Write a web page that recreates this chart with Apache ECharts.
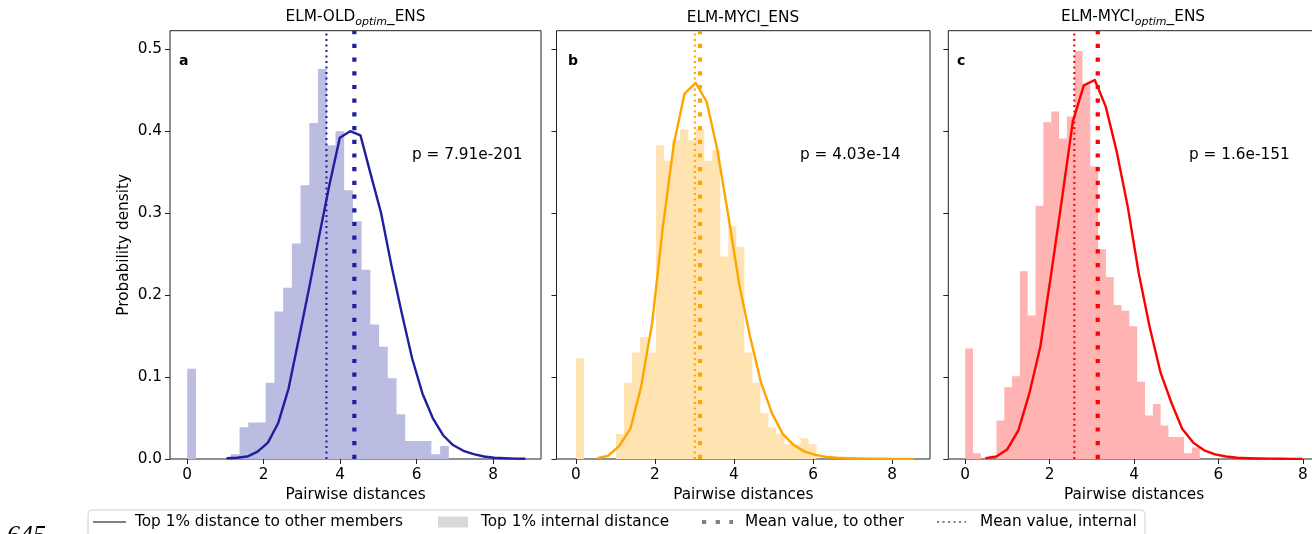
<!DOCTYPE html>
<html>
<head>
<meta charset="utf-8">
<script src="https://cdn.jsdelivr.net/npm/echarts@6/dist/echarts.min.js"></script>
<style>
html,body{margin:0;padding:0;background:#fff;}
#chart{width:1312px;height:534px;}
</style>
</head>
<body>
<div id="chart"></div>
<script>
// ---------------- data ----------------
const xTicks = [0, 2, 4, 6, 8];
const yTicks = [0, 0.1, 0.2, 0.3, 0.4, 0.5];
const yMax = 0.5227;

const titleA = 'ELM-OLD', titleSubA = 'optim';
const titleB = 'ELM-MYCI_ENS';
const titleC = 'ELM-MYCI', titleSubC = 'optim';
const titleEnd = '_ENS';
const panelLetters = ['a', 'b', 'c'];
const pTexts = ['p = 7.91e-201', 'p = 4.03e-14', 'p = 1.6e-151'];
const xName = 'Pairwise distances';
const yName = 'Probability density';
const legendLabels = ['Top 1% distance to other members', 'Top 1% internal distance', 'Mean value, to other', 'Mean value, internal'];
const stray = '645';

// Panel a
const histEdgesA = [0, 0.228, 0.456, 0.684, 0.912, 1.140, 1.368, 1.596, 1.824, 2.052, 2.280, 2.508, 2.736, 2.964, 3.192, 3.420, 3.648, 3.876, 4.104, 4.332, 4.560, 4.788, 5.016, 5.244, 5.472, 5.700, 5.928, 6.156, 6.384, 6.612, 6.840];
const histValsA = [0.110, 0, 0, 0, 0, 0.0057, 0.0387, 0.0444, 0.0444, 0.0932, 0.180, 0.209, 0.263, 0.334, 0.410, 0.476, 0.383, 0.400, 0.328, 0.290, 0.231, 0.164, 0.137, 0.0985, 0.0545, 0.022, 0.022, 0.022, 0.0057, 0.0159];
const curveXA = [1.03, 1.30, 1.57, 1.84, 2.11, 2.38, 2.65, 2.91, 3.18, 3.45, 3.72, 3.99, 4.26, 4.53, 4.80, 5.07, 5.34, 5.61, 5.88, 6.15, 6.42, 6.69, 6.95, 7.22, 7.49, 7.76, 8.03, 8.30, 8.57, 8.84];
const curveYA = [0.001, 0.0015, 0.003, 0.009, 0.020, 0.044, 0.086, 0.145, 0.207, 0.272, 0.335, 0.392, 0.400, 0.395, 0.347, 0.300, 0.236, 0.178, 0.123, 0.080, 0.050, 0.029, 0.017, 0.010, 0.006, 0.003, 0.0015, 0.001, 0.0005, 0.0003];
const meanInternalA = 3.64, meanOtherA = 4.37;

// Panel b
const histEdgesB = [0, 0.203, 0.406, 0.609, 0.812, 1.015, 1.218, 1.421, 1.624, 1.827, 2.030, 2.233, 2.436, 2.639, 2.842, 3.045, 3.248, 3.451, 3.654, 3.857, 4.060, 4.263, 4.466, 4.669, 4.872, 5.075, 5.278, 5.481, 5.684, 5.887, 6.090];
const histValsB = [0.123, 0, 0, 0, 0, 0.0305, 0.0932, 0.130, 0.149, 0.130, 0.383, 0.364, 0.389, 0.402, 0.389, 0.402, 0.364, 0.377, 0.247, 0.284, 0.259, 0.130, 0.0932, 0.0558, 0.0383, 0.0305, 0.0179, 0.0179, 0.0252, 0.0179];
const curveXB = [0.55, 0.82, 1.10, 1.38, 1.65, 1.93, 2.20, 2.48, 2.75, 3.03, 3.31, 3.58, 3.86, 4.13, 4.41, 4.68, 4.96, 5.23, 5.51, 5.79, 6.06, 6.34, 6.61, 6.89, 7.16, 7.44, 7.72, 7.99, 8.27, 8.54];
const curveYB = [0.001, 0.004, 0.016, 0.037, 0.088, 0.166, 0.283, 0.385, 0.446, 0.459, 0.436, 0.377, 0.296, 0.214, 0.149, 0.094, 0.056, 0.031, 0.017, 0.009, 0.005, 0.0025, 0.0015, 0.001, 0.0006, 0.0004, 0.0003, 0.0002, 0.0001, 0.0001];
const meanInternalB = 3.01, meanOtherB = 3.14;

// Panel c
const histEdgesC = [0, 0.185, 0.370, 0.556, 0.741, 0.926, 1.111, 1.296, 1.482, 1.667, 1.852, 2.037, 2.222, 2.408, 2.593, 2.778, 2.963, 3.148, 3.334, 3.519, 3.704, 3.889, 4.074, 4.260, 4.445, 4.630, 4.815, 5.000, 5.186, 5.371, 5.556];
const histValsC = [0.135, 0.007, 0, 0, 0.047, 0.0875, 0.101, 0.229, 0.175, 0.309, 0.411, 0.424, 0.391, 0.418, 0.498, 0.457, 0.357, 0.256, 0.222, 0.188, 0.181, 0.162, 0.0944, 0.053, 0.067, 0.041, 0.027, 0.027, 0.007, 0.014];
const curveXC = [0.48, 0.74, 1.00, 1.26, 1.52, 1.78, 2.04, 2.30, 2.55, 2.81, 3.07, 3.33, 3.59, 3.85, 4.11, 4.37, 4.63, 4.89, 5.14, 5.40, 5.66, 5.92, 6.18, 6.44, 6.70, 6.96, 7.22, 7.48, 7.73, 7.99];
const curveYC = [0.001, 0.003, 0.012, 0.035, 0.080, 0.137, 0.227, 0.320, 0.412, 0.456, 0.4625, 0.430, 0.375, 0.308, 0.227, 0.161, 0.105, 0.068, 0.037, 0.020, 0.0106, 0.0057, 0.003, 0.0015, 0.001, 0.0006, 0.0004, 0.0003, 0.0002, 0.0001];
const meanInternalC = 2.585, meanOtherC = 3.14;

// ---------------- layout / style ----------------
const FONT = 'DejaVu Sans';
const FS = 15.3;
const TXT = '#000';
const FRAME = '#222';
const gridTop = 30.7, gridH = 428.3;

const panels = [
  {edges: histEdgesA, vals: histValsA, cx: curveXA, cy: curveYA, mi: meanInternalA, mo: meanOtherA,
   line: '#1f1fa0', fill: '#babce1', xMin: -0.45, xMax: 9.25, left: 170, width: 371},
  {edges: histEdgesB, vals: histValsB, cx: curveXB, cy: curveYB, mi: meanInternalB, mo: meanOtherB,
   line: '#ffa500', fill: '#ffe4b2', xMin: -0.49, xMax: 8.96, left: 556.5, width: 373.5},
  {edges: histEdgesC, vals: histValsC, cx: curveXC, cy: curveYC, mi: meanInternalC, mo: meanOtherC,
   line: '#ff0000', fill: '#ffb3b3', xMin: -0.40, xMax: 8.40, left: 948.3, width: 371.5}
];

const grids = [], xAxes = [], yAxes = [], series = [];
panels.forEach((p, i) => {
  grids.push({left: p.left, top: gridTop, width: p.width, height: gridH, show: true,
              borderColor: FRAME, borderWidth: 1, backgroundColor: 'transparent',
              containLabel: false, outerBoundsMode: 'none'});
  xAxes.push({type: 'value', gridIndex: i, min: p.xMin, max: p.xMax,
    name: xName, nameLocation: 'middle', nameGap: 26,
    nameTextStyle: {fontFamily: FONT, fontSize: FS, color: TXT},
    axisLine: {show: false, onZero: false},
    splitLine: {show: false},
    axisTick: {show: true, length: 5, customValues: xTicks, lineStyle: {color: FRAME, width: 1}},
    axisLabel: {show: true, customValues: xTicks, margin: 8.5, fontFamily: FONT, fontSize: FS, color: TXT,
                formatter: v => String(v)}
  });
  yAxes.push({type: 'value', gridIndex: i, min: 0, max: yMax,
    name: i === 0 ? yName : '', nameLocation: 'middle', nameGap: 38, nameRotate: 90,
    nameTextStyle: {fontFamily: FONT, fontSize: FS, color: TXT},
    axisLine: {show: false, onZero: false},
    splitLine: {show: false},
    axisTick: {show: true, length: 5, customValues: yTicks, lineStyle: {color: FRAME, width: 1}},
    axisLabel: {show: i === 0, customValues: yTicks, margin: 8, fontFamily: FONT, fontSize: FS, color: TXT,
                formatter: v => v.toFixed(1)}
  });
  // histogram as stepped area
  const histData = p.edges.map((e, k) => [e, p.vals[Math.min(k, p.vals.length - 1)]]);
  series.push({type: 'line', xAxisIndex: i, yAxisIndex: i, data: histData, step: 'end',
    symbol: 'none', silent: true, z: 1,
    lineStyle: {width: 0, opacity: 0}, areaStyle: {color: p.fill, opacity: 1}});
  // curve
  series.push({type: 'line', xAxisIndex: i, yAxisIndex: i, data: p.cx.map((x, k) => [x, p.cy[k]]),
    symbol: 'none', silent: true, z: 3, lineStyle: {color: p.line, width: 2.4, join: 'round'}});
  // mean to other (thick dotted)
  series.push({type: 'line', xAxisIndex: i, yAxisIndex: i, data: [[p.mo, 0], [p.mo, yMax]],
    symbol: 'none', silent: true, z: 4,
    lineStyle: {color: p.line, width: 4.2, type: [4.2, 9.5], cap: 'butt'}});
  // mean internal (thin dotted)
  series.push({type: 'line', xAxisIndex: i, yAxisIndex: i, data: [[p.mi, 0], [p.mi, yMax]],
    symbol: 'none', silent: true, z: 4,
    lineStyle: {color: p.line, width: 2.1, type: [2.1, 3.4], cap: 'butt'}});
});

const richT = {
  n: {fontFamily: FONT, fontSize: FS, fill: TXT, verticalAlign: 'top', lineHeight: 16},
  s: {fontFamily: FONT, fontSize: 11, fontStyle: 'italic', fill: TXT, verticalAlign: 'top', lineHeight: 12, padding: [7, 0, 0, 0]}
};
const txt = (x, y, text, extra) => Object.assign({type: 'text', x: x, y: y, silent: true,
  style: Object.assign({text: text, fontFamily: FONT, fontSize: FS, fill: TXT, align: 'left', verticalAlign: 'middle'}, extra || {})});

const graphics = [
  {type: 'text', x: 355.5, y: 9.5, silent: true,
   style: {text: '{n|' + titleA + '}{s|' + titleSubA + '}{n|' + titleEnd + '}', rich: richT, align: 'center', verticalAlign: 'top'}},
  txt(743, 18, titleB, {align: 'center'}),
  {type: 'text', x: 1133, y: 9.5, silent: true,
   style: {text: '{n|' + titleC + '}{s|' + titleSubC + '}{n|' + titleEnd + '}', rich: richT, align: 'center', verticalAlign: 'top'}},
  txt(179, 61, panelLetters[0], {fontWeight: 'bold', fontSize: 14}),
  txt(568, 61, panelLetters[1], {fontWeight: 'bold', fontSize: 14}),
  txt(957, 61, panelLetters[2], {fontWeight: 'bold', fontSize: 14}),
  txt(412, 155, pTexts[0]),
  txt(800, 155, pTexts[1]),
  txt(1189, 155, pTexts[2]),
  // legend
  {type: 'rect', silent: true, shape: {x: 88, y: 510, width: 1057, height: 40, r: 4},
   style: {fill: 'rgba(255,255,255,0.8)', stroke: '#d0d0d0', lineWidth: 1}},
  {type: 'line', silent: true, shape: {x1: 93, y1: 522, x2: 126, y2: 522}, style: {stroke: '#808080', lineWidth: 2.1}},
  txt(135, 522, legendLabels[0]),
  {type: 'rect', silent: true, shape: {x: 438, y: 516.5, width: 30, height: 11}, style: {fill: '#d9d9d9'}},
  txt(481, 522, legendLabels[1]),
  {type: 'line', silent: true, shape: {x1: 702, y1: 522, x2: 733, y2: 522},
   style: {stroke: '#808080', lineWidth: 4.2, lineDash: [4.2, 9.5], lineCap: 'butt'}},
  txt(745, 522, legendLabels[2]),
  {type: 'line', silent: true, shape: {x1: 937, y1: 522, x2: 966, y2: 522},
   style: {stroke: '#808080', lineWidth: 2.1, lineDash: [2.1, 3.4], lineCap: 'butt'}},
  txt(980, 522, legendLabels[3]),
  txt(7, 536, stray, {fontFamily: 'Liberation Serif', fontStyle: 'italic', fontSize: 26})
];

const chart = echarts.init(document.getElementById('chart'), null, {renderer: 'canvas', width: 1312, height: 534});
chart.setOption({
  animation: false,
  backgroundColor: '#fff',
  grid: grids,
  xAxis: xAxes,
  yAxis: yAxes,
  series: series,
  graphic: graphics
});
</script>
</body>
</html>
